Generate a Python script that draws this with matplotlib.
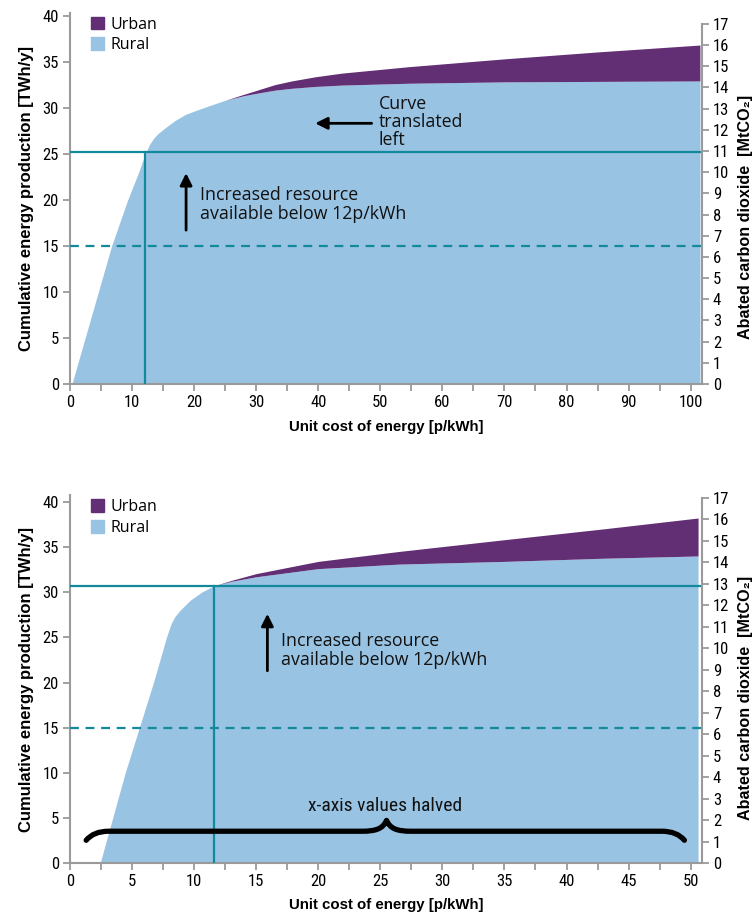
import numpy as np
import matplotlib.pyplot as plt
from matplotlib import font_manager
from matplotlib.patches import Patch, PathPatch
from matplotlib.path import Path

installed = {f.name for f in font_manager.fontManager.ttflist}
COND = next((f for f in ['Liberation Sans Narrow', 'Roboto Condensed', 'Open Sans Condensed',
                         'Liberation Sans'] if f in installed), 'DejaVu Sans')
TXT = 'Open Sans' if 'Open Sans' in installed else 'DejaVu Sans'
LAB = ['Liberation Sans', 'DejaVu Sans']
plt.rcParams['font.family'] = [COND, 'DejaVu Sans']

# Top panel: cost (p/kWh) vs cumulative energy (TWh/y)
x_top = [0.3, 6.7, 9.3, 11.0, 11.7, 12.2, 12.8, 13.5, 14.2, 15.5, 16.9, 18.7, 20.7, 22.8, 25,
         28, 30.4, 33, 35.7, 39.5, 43.8, 54.6, 70, 85, 101.5]
rural_top = [0, 15, 20, 22.9, 24.2, 25.1, 26.0, 26.7, 27.2, 27.9, 28.6, 29.3, 29.8, 30.3, 30.8,
             31.3, 31.6, 31.9, 32.1, 32.3, 32.45, 32.65, 32.8, 32.85, 32.9]
urban_top = [0, 0, 0, 0, 0, 0, 0, 0, 0, 0, 0, 0, 0, 0, 0,
             0.15, 0.35, 0.6, 0.8, 1.05, 1.3, 1.8, 2.5, 3.2, 3.9]

# Bottom panel: x-axis values halved
x_bot = [2.42, 4.44, 6.72, 7.79, 8.14, 8.45, 8.87, 9.68, 10.6, 11.6, 13, 15, 20,
         26.5, 35, 43, 50.6]
rural_bot = [0, 10, 20, 25.1, 26.5, 27.3, 28.0, 29.1, 30.0, 30.7, 31.2, 31.7, 32.6,
             33.1, 33.4, 33.75, 34.0]
urban_bot = [0, 0, 0, 0, 0, 0, 0, 0, 0, 0, 0.1, 0.35, 0.8,
             1.4, 2.4, 3.25, 4.2]

# reference lines (TWh/y and p/kWh)
level_top, cost_top = 25.2, 12.1
level_bot, cost_bot = 30.7, 11.6
dash_level = 15

RURAL = '#98c3e3'
URBAN = '#632f74'
TEAL = '#138a9b'
GREY = '#9a9a9a'

fig = plt.figure(figsize=(7.53, 9.13), dpi=100)


def style_axes(ax, ylim, xmax, xmajor, xminor, co2_ratio, xpad):
    ax.set_xlim(0, xmax)
    ax.set_ylim(0, ylim)
    for s in ['top', 'right']:
        ax.spines[s].set_visible(False)
    for s in ['left', 'bottom']:
        ax.spines[s].set_color(GREY)
        ax.spines[s].set_linewidth(1.5)
    ax.set_yticks(np.arange(0, 41, 5))
    ax.set_xticks(xmajor)
    ax.set_xticks(xminor, minor=True)
    ax.tick_params(which='both', colors=GREY, length=5, width=1.3,
                   labelcolor='black', labelsize=12, pad=3)
    ax.set_ylabel('Cumulative energy production [TWh/y]', fontsize=12,
                  fontweight='bold', family=LAB, labelpad=6)
    ax.set_xlabel('Unit cost of energy [p/kWh]', fontsize=10.8, fontweight='bold',
                  family=LAB, labelpad=xpad)

    ax2 = ax.twinx()
    ax2.set_ylim(0, ylim / co2_ratio)
    for s in ['top', 'left', 'bottom']:
        ax2.spines[s].set_visible(False)
    ax2.spines['right'].set_color(GREY)
    ax2.spines['right'].set_linewidth(1.5)
    ax2.spines['right'].set_bounds(0, 17)
    ax2.set_yticks(np.arange(0, 18, 1))
    ax2.tick_params(colors=GREY, length=5, width=1.3, labelcolor='black',
                    labelsize=12, pad=3)
    ax2.set_ylabel('Abated carbon dioxide  [MtCO₂]', fontsize=11.6, fontweight='bold',
                   family=LAB)
    ax2.yaxis.set_label_coords(1.057, 0.45)
    return ax2


def draw_panel(ax, x, rural, urban, level, cost):
    x = np.array(x)
    rural = np.array(rural)
    total = rural + np.array(urban)
    ax.fill_between(x, 0, rural, color=RURAL, lw=0, zorder=1)
    ax.fill_between(x, rural, total, where=total > rural, color=URBAN, lw=0,
                    interpolate=True, zorder=1)
    ax.axhline(level, color=TEAL, lw=1.6, zorder=3)
    ax.axhline(dash_level, color=TEAL, lw=1.6, ls=(0, (4, 3)), zorder=3)
    ax.plot([cost, cost], [0, level], color=TEAL, lw=1.6, zorder=3)
    ax.legend(handles=[Patch(color=URBAN, label='Urban'), Patch(color=RURAL, label='Rural')],
              loc='upper left', bbox_to_anchor=(0.015, 1.02), frameon=False,
              handlelength=0.85, handleheight=0.85, handletextpad=0.4, labelspacing=0.3,
              borderaxespad=0.3, prop={'family': [TXT, 'DejaVu Sans'], 'size': 11.5})


txt_font = dict(family=[TXT, 'DejaVu Sans'], fontsize=12.8, color='#111111')
arrow = dict(arrowstyle='-|>', color='black', lw=2, mutation_scale=18, shrinkA=0, shrinkB=0)

# ---- top panel
ax = fig.add_axes([0.093, 0.5794, 0.839, 0.4066])
draw_panel(ax, x_top, rural_top, urban_top, level_top, cost_top)
style_axes(ax, 40.3, 101.8, np.arange(0, 101, 10), np.arange(5, 101, 10), 2.30, 7)
ax.annotate('', xy=(18.7, 22.9), xytext=(18.7, 16.7), arrowprops=arrow, zorder=4)
ax.text(21.0, 19.5, 'Increased resource\navailable below 12p/kWh', va='center',
        ha='left', linespacing=1.05, **txt_font)
ax.annotate('', xy=(39.5, 28.3), xytext=(48.6, 28.3), arrowprops=arrow, zorder=4)
ax.text(49.7, 28.4, 'Curve\ntranslated\nleft', va='center', ha='left',
        linespacing=1.0, **txt_font)

# ---- bottom panel
axb = fig.add_axes([0.093, 0.0544, 0.839, 0.403])
draw_panel(axb, x_bot, rural_bot, urban_bot, level_bot, cost_bot)
style_axes(axb, 40.7, 50.9, np.arange(0, 51, 5), np.arange(2.5, 51, 5), 2.38, 6)
axb.annotate('', xy=(15.9, 27.6), xytext=(15.9, 21.3), arrowprops=arrow, zorder=4)
axb.text(17.0, 23.55, 'Increased resource\navailable below 12p/kWh', va='center',
         ha='left', linespacing=1.05, **txt_font)

# curly brace over the x range
brace_x0, brace_x1, brace_mid = 1.3, 49.5, 25.5
brace_y, brace_tip, brace_end = 3.55, 4.75, 2.55
verts = [(brace_x0, brace_end),
         (brace_x0 + 0.6, brace_y), (brace_x0 + 1.8, brace_y),
         (brace_mid - 2.0, brace_y),
         (brace_mid - 0.8, brace_y), (brace_mid - 0.3, brace_y + 0.3), (brace_mid, brace_tip),
         (brace_mid + 0.3, brace_y + 0.3), (brace_mid + 0.8, brace_y), (brace_mid + 2.0, brace_y),
         (brace_x1 - 1.8, brace_y),
         (brace_x1 - 0.6, brace_y), (brace_x1, brace_end)]
codes = [Path.MOVETO, Path.CURVE3, Path.CURVE3, Path.LINETO,
         Path.CURVE4, Path.CURVE4, Path.CURVE4,
         Path.CURVE4, Path.CURVE4, Path.CURVE4,
         Path.LINETO, Path.CURVE3, Path.CURVE3]
axb.add_patch(PathPatch(Path(verts, codes), fill=False, lw=3.8, color='black',
                        capstyle='round', joinstyle='round', zorder=4))
axb.text(brace_mid - 0.1, 6.3, 'x-axis values halved', ha='center', va='center',
         fontsize=14, color='#111111')

fig.savefig('out.png', dpi=100)
